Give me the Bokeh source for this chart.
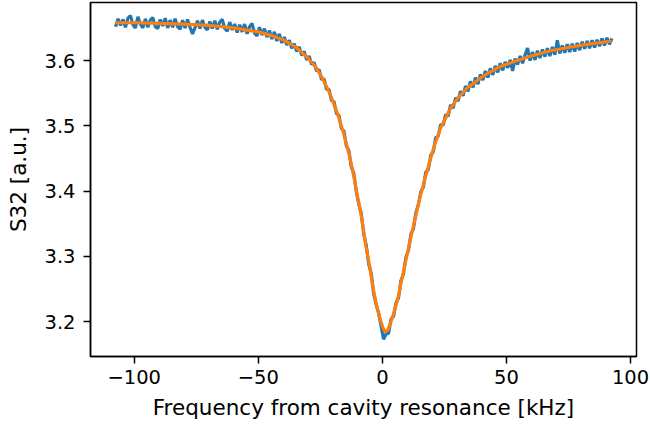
from bokeh.plotting import figure
from bokeh.models import Range1d, FixedTicker
from bokeh.embed import file_html
from bokeh.resources import INLINE

# ---- data ----
# measured S32 trace, 1 kHz spacing starting at -107.5 kHz
s32_meas = [
    3.652, 3.664, 3.654, 3.663, 3.651, 3.665, 3.669, 3.655, 3.650, 3.667,
    3.656, 3.650, 3.664, 3.651, 3.662, 3.666, 3.652, 3.649, 3.663, 3.653,
    3.665, 3.650, 3.662, 3.651, 3.664, 3.652, 3.648, 3.662, 3.650, 3.663,
    3.651, 3.641, 3.650, 3.661, 3.649, 3.662, 3.651, 3.647, 3.660, 3.649,
    3.661, 3.648, 3.659, 3.663, 3.649, 3.645, 3.659, 3.647,
    3.656, 3.643, 3.655, 3.644, 3.656, 3.641, 3.652, 3.657, 3.642, 3.638,
    3.651, 3.639, 3.649, 3.636, 3.646, 3.633, 3.644, 3.630, 3.641, 3.627,
    3.636, 3.624, 3.631, 3.619, 3.626, 3.614, 3.621, 3.608, 3.614, 3.601,
    3.607, 3.594, 3.597, 3.584, 3.586, 3.571, 3.572, 3.556, 3.556, 3.539,
    3.537, 3.519, 3.516, 3.496, 3.492, 3.469, 3.462, 3.437, 3.427, 3.399,
    3.380, 3.366, 3.334, 3.317, 3.288, 3.274, 3.243, 3.226, 3.213, 3.193,
    3.173, 3.181, 3.182, 3.204, 3.208, 3.229, 3.236, 3.263, 3.273, 3.299,
    3.309, 3.334, 3.342, 3.367, 3.379, 3.399, 3.406, 3.429, 3.433, 3.455,
    3.460, 3.482, 3.484, 3.502, 3.501, 3.517, 3.515, 3.532, 3.527, 3.543,
    3.538, 3.553, 3.546, 3.561, 3.553, 3.568, 3.559, 3.574, 3.564, 3.579,
    3.570, 3.584, 3.574, 3.588, 3.578, 3.592, 3.582, 3.596, 3.585, 3.598,
    3.589, 3.601, 3.584, 3.603, 3.594, 3.607, 3.596, 3.609, 3.619, 3.600,
    3.613, 3.601, 3.615, 3.604, 3.617, 3.606, 3.619, 3.607, 3.621, 3.609,
    3.631, 3.611, 3.623, 3.612, 3.625, 3.613, 3.626, 3.614, 3.627, 3.616,
    3.629, 3.618, 3.630, 3.619, 3.631, 3.620, 3.632, 3.622, 3.634, 3.623,
    3.635, 3.625, 3.634,
]
freq_meas = [-107.5 + i for i in range(len(s32_meas))]

# fitted curve
freq_fit = [
    -107.6, -100, -90, -80, -70, -60, -50, -45, -40, -35, -30, -27, -24,
    -21, -18, -15.5, -13.5, -12, -10, -8.5, -6.6, -5, -3.9, -2.5, -1, 0.2,
    1.2, 2.2, 3.5, 5, 6.1, 8, 10.1, 12, 13.6, 15, 16.5, 18.2, 20.8, 23.5,
    27.5, 30.5, 34.2, 40.9, 47, 54.3, 60, 67.7, 75, 81, 87, 92.4,
]
s32_fit = [
    3.658, 3.658, 3.657, 3.656, 3.654, 3.650, 3.644, 3.639, 3.632, 3.621,
    3.604, 3.591, 3.572, 3.548, 3.518, 3.487, 3.458, 3.432, 3.392, 3.362,
    3.315, 3.282, 3.255, 3.228, 3.205, 3.191, 3.184, 3.187, 3.200, 3.218,
    3.233, 3.268, 3.305, 3.338, 3.364, 3.388, 3.410, 3.433, 3.468, 3.497,
    3.527, 3.543, 3.558, 3.577, 3.590, 3.600, 3.607, 3.615, 3.620, 3.624,
    3.627, 3.630,
]

x_ticks = [-100, -50, 0, 50, 100]
x_tick_labels = ["\u2212100", "\u221250", "0", "50", "100"]
y_ticks = [3.2, 3.3, 3.4, 3.5, 3.6]
y_tick_labels = ["3.2", "3.3", "3.4", "3.5", "3.6"]

FONT = "DejaVu Sans"
FS_TICK = "19.5px"
FS_LABEL = "21.5px"

p = figure(width=650, height=432, output_backend="svg", toolbar_location=None,
           x_range=Range1d(-117.6, 102.4), y_range=Range1d(3.1465, 3.689))
p.min_border_left = 90
p.min_border_right = 14
p.min_border_top = 2
p.min_border_bottom = 76
p.background_fill_color = "white"
p.border_fill_color = "white"
p.grid.visible = False
p.outline_line_color = "black"
p.outline_line_width = 1.5

p.line(freq_meas, s32_meas, line_color="#1f77b4", line_width=3.2)
p.line(freq_fit, s32_fit, line_color="#ff7f0e", line_width=3.2)

for ax in (p.xaxis[0], p.yaxis[0]):
    ax.axis_line_color = "black"
    ax.axis_line_width = 1.5
    ax.major_tick_line_color = "black"
    ax.major_tick_line_width = 1.5
    ax.major_tick_out = 7
    ax.major_tick_in = 0
    ax.minor_tick_line_color = None
    ax.major_label_text_font = FONT
    ax.major_label_text_font_size = FS_TICK
    ax.major_label_text_color = "black"
    ax.axis_label_text_font = FONT
    ax.axis_label_text_font_size = FS_LABEL
    ax.axis_label_text_font_style = "normal"
    ax.axis_label_text_color = "black"

p.xaxis.ticker = FixedTicker(ticks=x_ticks)
p.xaxis.major_label_overrides = dict(zip(x_ticks, x_tick_labels))
p.yaxis.ticker = FixedTicker(ticks=y_ticks)
p.yaxis.major_label_overrides = dict(zip(y_ticks, y_tick_labels))
p.xaxis.axis_label = "Frequency from cavity resonance [kHz]"
p.yaxis.axis_label = "S32 [a.u.]"
p.xaxis.major_label_standoff = 6
p.yaxis.major_label_standoff = 8
p.xaxis.axis_label_standoff = 8
p.yaxis.axis_label_standoff = 10

open("out.html", "w").write(file_html(p, INLINE))
